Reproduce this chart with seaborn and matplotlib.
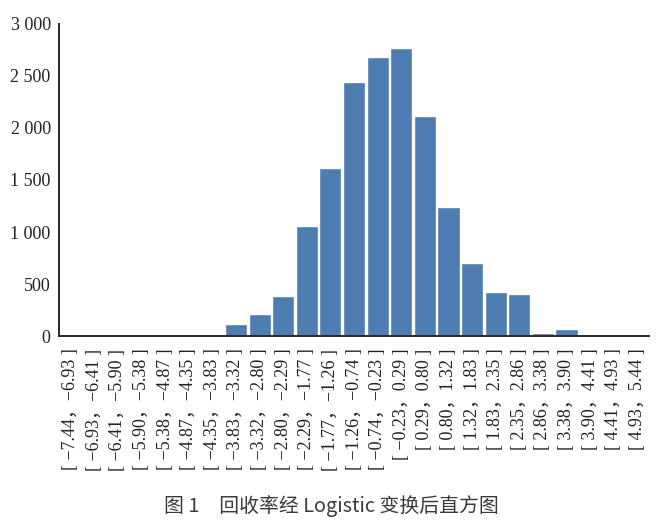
import matplotlib
matplotlib.use("Agg")
import matplotlib.pyplot as plt
import pandas as pd
import seaborn as sns

# bin edges of the logit-transformed recovery rate and counts per bin
lower = [-7.44, -6.93, -6.41, -5.90, -5.38, -4.87, -4.35, -3.83, -3.32, -2.80,
         -2.29, -1.77, -1.26, -0.74, -0.23, 0.29, 0.80, 1.32, 1.83, 2.35,
         2.86, 3.38, 3.90, 4.41, 4.93]
upper = [-6.93, -6.41, -5.90, -5.38, -4.87, -4.35, -3.83, -3.32, -2.80, -2.29,
         -1.77, -1.26, -0.74, -0.23, 0.29, 0.80, 1.32, 1.83, 2.35, 2.86,
         3.38, 3.90, 4.41, 4.93, 5.44]
counts = [0, 0, 0, 0, 0, 0, 0, 115, 212, 385,
          1058, 1615, 2442, 2683, 2769, 2115, 1240, 702, 423, 404,
          32, 67, 0, 0, 0]
y_ticks = [0, 500, 1000, 1500, 2000, 2500, 3000]
y_tick_labels = ["0", "500", "1 000", "1 500", "2 000", "2 500", "3 000"]
caption = "图 1\u3000回收率经 Logistic 变换后直方图"


def fmt(v):
    return f"{v:.2f}".replace("-", "\u2212")


labels = [f"[ {fmt(a)}，{fmt(b)} ]" for a, b in zip(lower, upper)]
df = pd.DataFrame({"bin": labels, "count": counts})

sns.set_style("white")
plt.rcParams["font.family"] = ["Liberation Serif", "Noto Sans CJK SC", "DejaVu Sans"]

fig = plt.figure(figsize=(6.62, 5.26), dpi=100)
ax = fig.add_axes([0.0891, 0.3612, 0.8913, 0.5932])

sns.barplot(data=df, x="bin", y="count", order=labels, color="#4e7db1",
            saturation=1, width=0.94, ax=ax)

ax.set_xlim(-0.5, len(labels) - 0.5)
ax.set_ylim(0, 3000)
ax.set_xlabel("")
ax.set_ylabel("")
ax.set_yticks(y_ticks)
ax.set_yticklabels(y_tick_labels, fontsize=13,
                   family=["Liberation Serif", "DejaVu Sans"], color="#222222")
ax.set_xticks(range(len(labels)))
ax.set_xticklabels(labels, rotation=90, fontsize=13, va="top", ha="center",
                   family=["Liberation Serif", "Noto Sans CJK SC"], color="#222222")
ax.tick_params(axis="y", direction="in", length=7, width=1, color="#333333", pad=6)
ax.tick_params(axis="x", length=0, pad=9)

for side in ["top", "right"]:
    ax.spines[side].set_visible(False)
for side in ["left", "bottom"]:
    ax.spines[side].set_linewidth(1.4)
    ax.spines[side].set_color("#2a2a2a")

fig.text(0.5, 0.038, caption, ha="center", va="center", fontsize=14.3,
         family=["Noto Sans CJK SC", "DejaVu Sans"], fontweight="light",
         color="#3a3a3a")

fig.savefig("out.png", dpi=100)
